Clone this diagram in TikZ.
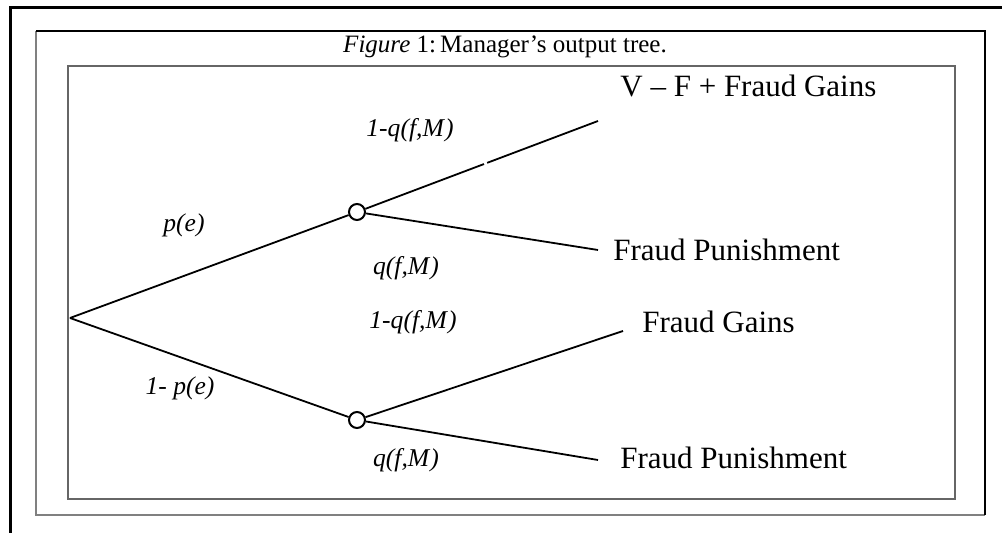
\documentclass[tikz,border=0pt]{standalone}
\usepackage{fontspec}
\setmainfont{Liberation Serif}
\usetikzlibrary{calc}
\tikzstyle{chance}=[draw, line width=1pt, circle, inner sep=0pt, minimum size=8pt]
\tikzstyle{branch}=[line width=0.9pt]
\tikzstyle{outcome}=[anchor=west, inner sep=0pt, font=\fontsize{15.5}{18}\selectfont]
\tikzstyle{prob}=[inner sep=0pt, font=\fontsize{12.8}{15}\selectfont\itshape]

\begin{document}
\begin{tikzpicture}[x=0.5pt,y=-0.5pt]
	\useasboundingbox (0,0) rectangle (1002,533);
	\draw[line width=1.5pt] (10,533) -- (10,8) -- (1002,8);
	\draw[line width=1pt,black!50] (36,31) -- (36,515) -- (985,515);
	\draw[line width=1pt] (36,31) -- (985,31) -- (985,515);
	\draw[line width=0.9pt,black!60] (68,66) rectangle (955,499);
	\node[inner sep=0pt, font=\fontsize{12.5}{15}\selectfont] (title) at (505,47) {\textit{Figure} 1:\,Manager’s output tree.};
	\coordinate (root) at (70,318);
	\node[chance] (up) at (357,212) {};
	\node[chance] (lo) at (357,420) {};
	\node[outcome] (vf) at (620,86) {V -- F + Fraud Gains};
	\node[outcome] (punA) at (613,250) {Fraud Punishment};
	\node[outcome] (gain) at (642,322) {Fraud Gains};
	\node[outcome] (punB) at (620,458) {Fraud Punishment};
	\coordinate (endA) at (598,121);
	\coordinate (endB) at (598,250);
	\coordinate (endC) at (623,331);
	\coordinate (endD) at (598,460);
	\coordinate (brkA) at ($(up)!0.527!(endA)$);
	\coordinate (brkB) at ($(up)!0.54!(endA)$);
	\draw[branch] (root) -- (up);
	\draw[branch] (root) -- (lo);
	\draw[branch] (up) -- (brkA);
	\draw[branch] (brkB) -- (endA);
	\draw[branch] (up) -- (endB);
	\draw[branch] (lo) -- (endC);
	\draw[branch] (lo) -- (endD);
	\node[prob] (qA) at (410,130) {1-q(f,M\/)};
	\node[prob] (pe) at (184,225) {p(e\/)};
	\node[prob] (qB) at (406,268) {q(f,M\/)};
	\node[prob] (qC) at (413,322) {1-q(f,M\/)};
	\node[prob] (npe) at (180,388) {1- p(e\/)};
	\node[prob] (qD) at (406,460) {q(f,M\/)};
\end{tikzpicture}
\end{document}
